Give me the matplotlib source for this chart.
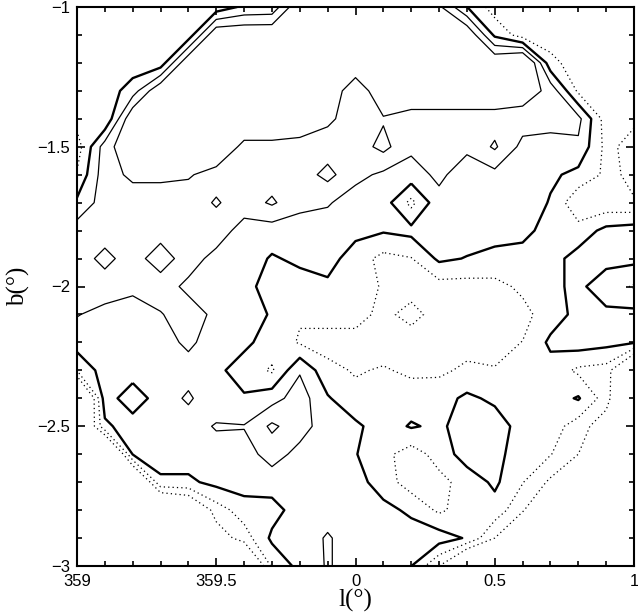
import numpy as np
import matplotlib.pyplot as plt
from matplotlib.ticker import MultipleLocator

#*************************** grid values ***************************
# columns: l = 359.0 ... 1.0 in 0.1 deg steps, one list per b row (b = -1.0 ... -3.0)
# contour levels: 1,2 dotted / 3 thick / 4,5 thin
O = -2      # outside the observed field
TL = 2.4    # outside, top-left corner (no dotted contours there)
TR = 1.5    # outside, top-right corner (single dotted contour)

b100 = [TL, TL, TL, TL, TL, TL, 3.2, 3.3, 6, 6, 6, 6, 6, 5.2, 3.02, TR, TR, TR, TR, TR, TR]
b110 = [TL, TL, TL, TL, TL, 6, 6, 6, 6, 6, 6, 6, 6, 6, 6, 2.8, TR, TR, TR, TR, TR]
b120 = [TL, TL, TL, TL, 6, 6, 6, 6, 6, 6, 6, 6, 6, 6, 6, 6, 7, 2.3, TR, TR, TR]
b130 = [TL, TL, 3.5, 6, 6, 6, 6, 6, 6, 6, 4.1, 6, 6, 6, 6, 6, 5.6, 4.7, 1.8, TR, TR]
b140 = [TL, 2.05, 6, 6, 6, 6, 6, 6, 6, 5.2, 4.5, 4.9, 4.5, 4.5, 4.5, 4.5, 4.5, 4.5, 4.3, TR, TR]
b150 = [1.5, 4.5, 6, 6, 6, 6, 4.7, 4.7, 4.5, 4.5, 4.5, 5.3, 4.2, 4.5, 4.2, 5.15, 3.7, 3.5, 3.8, 1.7, 0]
b160 = [2.1, 4.6, 5.2, 5.2, 5.1, 4.6, 4.5, 4.5, 4.5, 5.3, 4.3, 3.8, 3.6, 4.2, 3.5, 3.7, 3.5, 3.2, 2.7, 1.8, 0.3]
b170 = [3.2, 4.5, 4.5, 4.5, 4.5, 5.1, 4.5, 5.15, 4.3, 4.1, 3.5, 3.5, 1.7, 3.7, 3.7, 3.7, 3.8, 2.9, 1.2, 1.3, 1.2]
b180 = [4.5, 4.5, 4.5, 4.5, 4.5, 4.5, 3.6, 3.5, 3.5, 3.5, 3.3, 3.1, 3.3, 3.5, 3.5, 3.4, 3.3, 2.6, 2.4, 3.3, 3.5]
b190 = [4.5, 5.3, 4.5, 5.6, 4.4, 3.7, 3.5, 2.9, 3.2, 3.4, 2.5, 1.7, 1.95, 3.2, 2.95, 2.7, 2.6, 2.6, 3.4, 3.3, 3.3]
b200 = [4.5, 4.5, 4.2, 4.4, 3.8, 3.5, 3.3, 2.6, 2.6, 2.8, 2.5, 1.9, 1.5, 1.6, 1.6, 1.7, 2.2, 2.8, 3.2, 2.5, 1.9]
b210 = [4.05, 3.7, 3.6, 3.95, 4.4, 3.8, 3.5, 2.9, 2.1, 2.4, 2.4, 1.7, 2.4, 1.5, 1.5, 1.5, 1.7, 2.5, 3.3, 3.2, 3.3]
b220 = [3.5, 3.5, 3.5, 3.6, 4.2, 3.5, 3.2, 2.6, 1.9, 1.6, 1.6, 1.5, 1.4, 1.5, 1.6, 1.7, 2.02, 3.2, 3.5, 3.3, 3.1]
b230 = [2.05, 3.5, 3.5, 3.5, 3.6, 3.2, 2.6, 1.85, 3.9, 2.3, 1.9, 2.1, 1.8, 1.8, 2.2, 2.05, 2.5, 2.6, 1.8, 1.6, O]
b240 = [-3, 3.5, 2.4, 3.5, 4.15, 3.3, 3.1, 3.6, 4.5, 3.1, 2.3, 2.5, 2.5, 2.6, 3.2, 2.8, 2.5, 2.5, 3.1, 1.5, O]
b250 = [O, 2.8, 3.5, 3.5, 3.5, 4.1, 4.05, 5.2, 4.4, 3.5, 3.2, 2.5, 3.1, 2.8, 3.5, 3.5, 2.6, 2.5, 1.5, 0.3, O]
b260 = [O, -3, 3.05, 3.5, 3.5, 3.5, 3.6, 4.4, 3.7, 3.5, 3.05, 2.3, 1.5, 2.4, 3.5, 3.3, 2.5, 2.05, 1.0, O, O]
b270 = [O, O, O, 2.8, 2.8, 3.3, 3.5, 3.5, 3.8, 3.8, 3.4, 2.5, 1.5, 1.7, 2.4, 3.2, 2.05, 0.8, O, O, O]
b280 = [O, O, O, O, -1, 1.5, 2.5, 2.6, 3.5, 3.6, 3.5, 3.3, 2.8, 1.8, 2.5, 2.6, 1.2, O, O, O, O]
b290 = [O, O, O, O, O, 0.3, 1.5, 3.2, 3.5, 4.1, 3.5, 3.5, 3.5, 3.5, 2.9, 1.0, O, O, O, O, O]
b300 = [O, O, O, O, O, O, O, 2.2, 3.3, 4.1, 3.5, 3.4, 3.02, 1.0, O, O, O, O, O, O, O]

x_ticks = [359, 359.5, 360, 360.5, 361]
x_labels = ["359", "359.5", "0", "0.5", "1"]
y_ticks = [-3, -2.5, -2, -1.5, -1]
y_labels = ["\u22123", "\u22122.5", "\u22122", "\u22121.5", "\u22121"]
#*************************************************************************************


def main():
    l_grid = np.linspace(359.0, 361.0, 21)
    b_grid = np.linspace(-1.0, -3.0, 21)
    field = np.array([b100, b110, b120, b130, b140, b150, b160, b170, b180, b190, b200,
                      b210, b220, b230, b240, b250, b260, b270, b280, b290, b300])

    fig = plt.figure(figsize=(6.38, 6.15), dpi=100)
    ax = fig.add_axes([77 / 638, 1 - 566 / 615, 557 / 638, 559 / 615])

    dots = (0, (1, 2.5))
    ax.contour(l_grid, b_grid, field, levels=[1, 2], colors="k",
               linewidths=0.9, linestyles=[dots, dots])
    ax.contour(l_grid, b_grid, field, levels=[3], colors="k", linewidths=1.7)
    ax.contour(l_grid, b_grid, field, levels=[4, 5], colors="k", linewidths=0.9)

    ax.set_xlim(359, 361)
    ax.set_ylim(-3, -1)
    ax.set_xticks(x_ticks)
    ax.set_xticklabels(x_labels, fontfamily="Liberation Sans", fontsize=12)
    ax.set_yticks(y_ticks)
    ax.set_yticklabels(y_labels, fontfamily="Liberation Sans", fontsize=12)
    ax.xaxis.set_minor_locator(MultipleLocator(0.1))
    ax.yaxis.set_minor_locator(MultipleLocator(0.1))
    ax.tick_params(which="both", direction="in", top=True, right=True, width=1.2)
    ax.tick_params(which="major", length=6)
    ax.tick_params(which="minor", length=3.5)
    ax.tick_params(axis="x", which="major", pad=6)
    ax.tick_params(axis="y", which="major", pad=5)
    for s in ax.spines.values():
        s.set_linewidth(1.5)

    ax.set_xlabel("l(\u00b0)", fontfamily="Liberation Serif", fontsize=18, labelpad=0)
    ax.set_ylabel("b(\u00b0)", fontfamily="Liberation Serif", fontsize=18, labelpad=5)

    plt.savefig("out.png", dpi=100)


if __name__ == "__main__":
    main()
